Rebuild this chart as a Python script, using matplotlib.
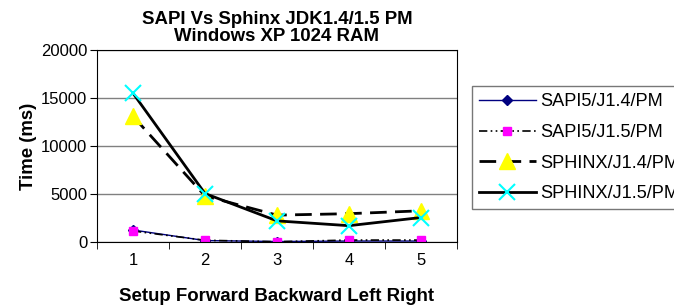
import matplotlib.pyplot as plt

plt.rcParams['font.family'] = ['Liberation Sans', 'DejaVu Sans']

# DATA
steps = [1, 2, 3, 4, 5]
sapi5_j14 = [1250, 150, 50, 100, 100]
sapi5_j15 = [1150, 180, 30, 200, 200]
sphinx_j14 = [13100, 4800, 2800, 2950, 3250]
sphinx_j15 = [15500, 5050, 2200, 1700, 2550]

fig = plt.figure(figsize=(6.74, 3.08), dpi=100)
ax = fig.add_axes([97 / 674, 66 / 308, 360 / 674, 192 / 308])

ax.plot(steps, sapi5_j14, color='#000080', lw=1, marker='D', ms=5,
        mfc='#000080', mec='#000080', label='SAPI5/J1.4/PM')
ax.plot(steps, sapi5_j15, color='black', lw=1.2, dashes=(5, 2, 1, 2, 1, 2),
        marker='s', ms=6, mfc='magenta', mec='magenta', label='SAPI5/J1.5/PM')
ax.plot(steps, sphinx_j14, color='black', lw=2, dashes=(6, 3),
        marker='^', ms=12, mfc='yellow', mec='yellow', label='SPHINX/J1.4/PM')
ax.plot(steps, sphinx_j15, color='black', lw=2, marker='x', ms=12,
        mew=1.5, mec='cyan', label='SPHINX/J1.5/PM')

ax.set_xlim(0.5, 5.5)
ax.set_ylim(0, 20000)
ax.set_yticks([0, 5000, 10000, 15000, 20000])
ax.set_xticks(steps)
ax.set_xticks([0.5, 1.5, 2.5, 3.5, 4.5, 5.5], minor=True)
ax.tick_params(axis='x', which='major', length=0, labelsize=12, pad=8)
ax.tick_params(axis='x', which='minor', length=5, direction='out')
ax.tick_params(axis='y', length=5, direction='out', labelsize=12, pad=2)
ax.grid(axis='y', color='#808080', lw=1)
ax.set_axisbelow(True)
for s in ax.spines.values():
    s.set_color('black')

ax.set_title('SAPI Vs Sphinx JDK1.4/1.5 PM\nWindows XP 1024 RAM',
             fontsize=13.4, fontweight='bold', linespacing=1.0, pad=6.5)
ax.set_xlabel('Setup Forward Backward Left Right', fontsize=13.4,
              fontweight='bold', labelpad=14.5)
ax.set_ylabel('Time (ms)', fontsize=13.4, fontweight='bold', labelpad=3)

leg = ax.legend(loc='upper left', bbox_to_anchor=(472 / 674, 1 - 86 / 308),
                bbox_transform=fig.transFigure, fontsize=13.1, frameon=True,
                fancybox=False, edgecolor='#555555', handlelength=3.1,
                handletextpad=0.25, borderpad=0.4, labelspacing=0.75,
                borderaxespad=0)
leg.get_frame().set_linewidth(1)

fig.savefig('out.png', dpi=100)
